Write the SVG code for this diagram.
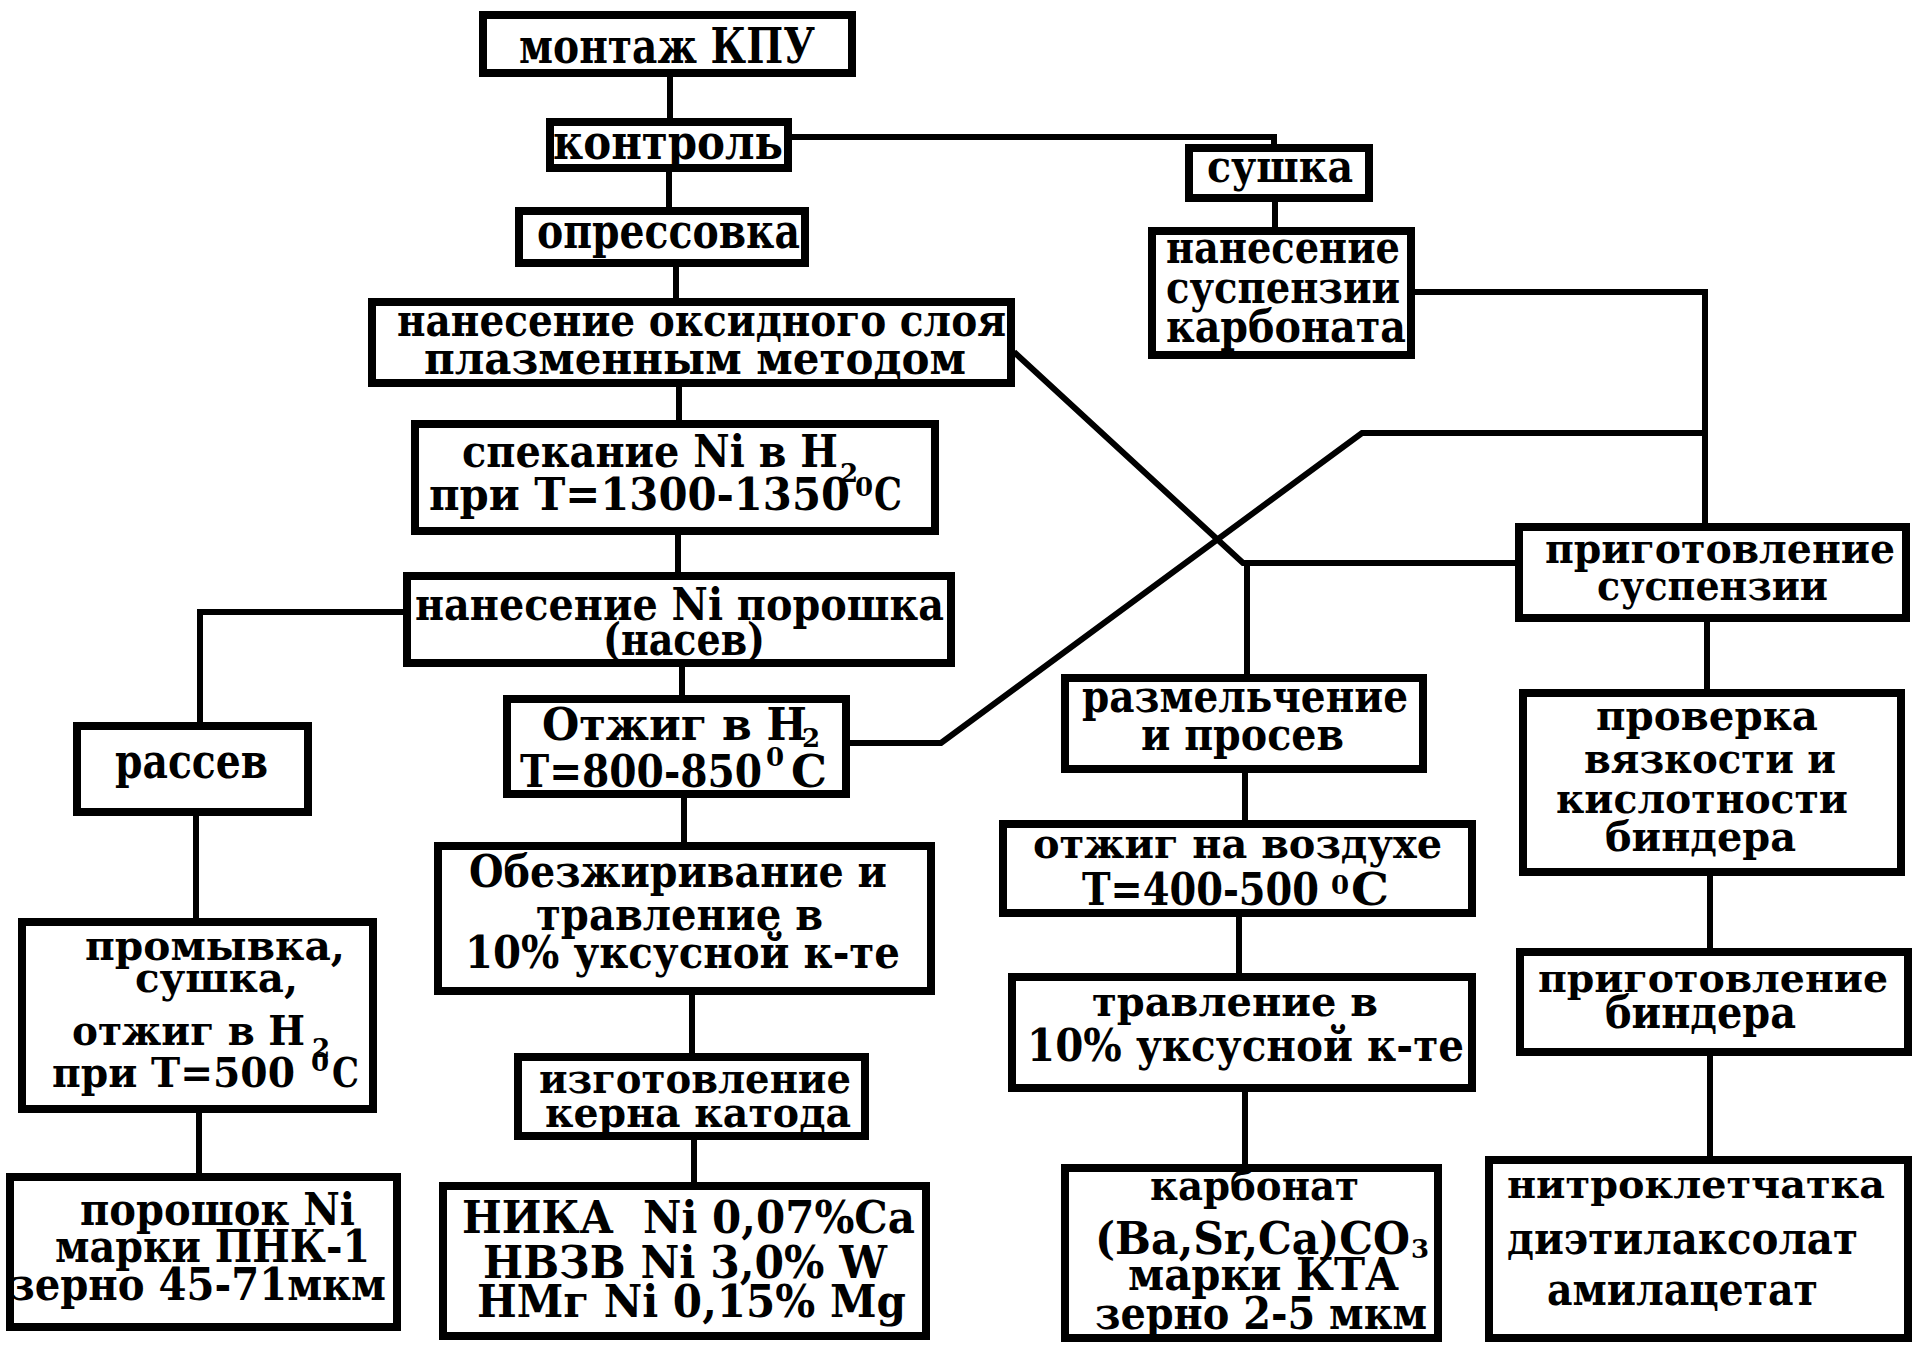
<svg xmlns="http://www.w3.org/2000/svg" width="1915" height="1345" viewBox="0 0 1915 1345">
<style>
.box{fill:#fff;stroke:#000;stroke-width:8}
.t{font-family:"DejaVu Serif","Liberation Serif",serif;font-weight:bold;font-size:44px;fill:#000}
.L{font-size:48px}
.M{font-size:41px}
.S{font-size:40px}
.s{font-size:26px}
.c line,.c polyline{stroke:#000;stroke-width:6;fill:none;stroke-linejoin:miter}
</style>
<rect width="1915" height="1345" fill="#fff"/>
<g class="c" id="connectors">
<line x1="670" y1="77" x2="670" y2="118"/>
<line x1="669" y1="172" x2="669" y2="207"/>
<line x1="676" y1="267" x2="676" y2="298"/>
<line x1="679" y1="387" x2="679" y2="420"/>
<line x1="678" y1="535" x2="678" y2="572"/>
<line x1="682" y1="667" x2="682" y2="695"/>
<line x1="684" y1="798" x2="684" y2="842"/>
<line x1="692" y1="995" x2="692" y2="1053"/>
<line x1="694" y1="1140" x2="694" y2="1182"/>
<polyline points="403,612 200,612 200,723"/>
<line x1="196" y1="816" x2="196" y2="918"/>
<line x1="199" y1="1113" x2="199" y2="1173"/>
<polyline points="792,137 1274,137 1274,144"/>
<line x1="1275" y1="202" x2="1275" y2="227"/>
<polyline points="1415,292 1705,292 1705,523"/>
<polyline points="1705,433 1362,433 941,743 850,743"/>
<polyline points="1014,352 1243,563 1515,563"/>
<line x1="1247" y1="563" x2="1247" y2="674"/>
<line x1="1245" y1="773" x2="1245" y2="820"/>
<line x1="1239" y1="917" x2="1239" y2="973"/>
<line x1="1245" y1="1092" x2="1245" y2="1164"/>
<line x1="1707" y1="622" x2="1707" y2="689"/>
<line x1="1710" y1="876" x2="1710" y2="948"/>
<line x1="1710" y1="1056" x2="1710" y2="1156"/>
</g>
<g id="n-montazh"><rect class="box" x="483" y="15" width="369" height="58"/>
<text class="t L" x="519" y="63" textLength="296" lengthAdjust="spacingAndGlyphs">монтаж КПУ</text></g>
<g id="n-kontrol"><rect class="box" x="550" y="122" width="238" height="46"/>
<text class="t L" x="553" y="159" textLength="230" lengthAdjust="spacingAndGlyphs">контроль</text></g>
<g id="n-opressovka"><rect class="box" x="519" y="211" width="286" height="52"/>
<text class="t L" x="537" y="248" textLength="263" lengthAdjust="spacingAndGlyphs">опрессовка</text></g>
<g id="n-oksid"><rect class="box" x="372" y="302" width="639" height="81"/>
<text class="t" x="397" y="336" textLength="609" lengthAdjust="spacingAndGlyphs">нанесение оксидного слоя</text>
<text class="t" x="424" y="374" textLength="542" lengthAdjust="spacingAndGlyphs">плазменным методом</text></g>
<g id="n-spekanie"><rect class="box" x="415" y="424" width="520" height="107"/>
<text class="t" x="462" y="467" textLength="376" lengthAdjust="spacingAndGlyphs">спекание Ni в H</text>
<text class="t s" x="840" y="482">2</text>
<text class="t" x="429" y="510" textLength="421" lengthAdjust="spacingAndGlyphs">при T=1300-1350</text>
<text class="t s" x="855" y="496">0</text>
<text class="t" x="874" y="510" textLength="28" lengthAdjust="spacingAndGlyphs">C</text></g>
<g id="n-nanesNi"><rect class="box" x="407" y="576" width="544" height="87"/>
<text class="t" x="415" y="620" textLength="529" lengthAdjust="spacingAndGlyphs">нанесение Ni порошка</text>
<text class="t" x="603" y="655" textLength="162" lengthAdjust="spacingAndGlyphs">(насев)</text></g>
<g id="n-rassev"><rect class="box" x="77" y="726" width="231" height="86"/>
<text class="t L" x="115" y="778" textLength="153" lengthAdjust="spacingAndGlyphs">рассев</text></g>
<g id="n-promyvka"><rect class="box" x="22" y="922" width="351" height="187"/>
<text class="t M" x="85" y="960" textLength="260" lengthAdjust="spacingAndGlyphs">промывка,</text>
<text class="t M" x="135" y="992" textLength="163" lengthAdjust="spacingAndGlyphs">сушка,</text>
<text class="t M" x="72" y="1045" textLength="233" lengthAdjust="spacingAndGlyphs">отжиг в H</text>
<text class="t s" x="312" y="1057">2</text>
<text class="t M" x="52" y="1087" textLength="243" lengthAdjust="spacingAndGlyphs">при T=500</text>
<text class="t s" x="311" y="1071">0</text>
<text class="t M" x="332" y="1087" textLength="27" lengthAdjust="spacingAndGlyphs">C</text></g>
<g id="n-poroshok"><rect class="box" x="10" y="1177" width="387" height="150"/>
<text class="t" x="80" y="1225" textLength="275" lengthAdjust="spacingAndGlyphs">порошок Ni</text>
<text class="t" x="55" y="1262" textLength="315" lengthAdjust="spacingAndGlyphs">марки ПНК-1</text>
<text class="t" x="9" y="1300" textLength="377" lengthAdjust="spacingAndGlyphs">зерно 45-71мкм</text></g>
<g id="n-otzhigH2"><rect class="box" x="507" y="699" width="339" height="95"/>
<text class="t" x="542" y="740" textLength="265" lengthAdjust="spacingAndGlyphs">Отжиг в H</text>
<text class="t s" x="802" y="747">2</text>
<text class="t" x="520" y="787" textLength="242" lengthAdjust="spacingAndGlyphs">T=800-850</text>
<text class="t s" x="766" y="766">0</text>
<text class="t" x="791" y="787" textLength="36" lengthAdjust="spacingAndGlyphs">C</text></g>
<g id="n-obezzhir"><rect class="box" x="438" y="846" width="493" height="145"/>
<text class="t" x="469" y="887" textLength="418" lengthAdjust="spacingAndGlyphs">Обезжиривание и</text>
<text class="t" x="536" y="930" textLength="287" lengthAdjust="spacingAndGlyphs">травление в</text>
<text class="t" x="465" y="968" textLength="435" lengthAdjust="spacingAndGlyphs">10% уксусной к-те</text></g>
<g id="n-izgot"><rect class="box" x="518" y="1057" width="347" height="79"/>
<text class="t M" x="539" y="1093" textLength="312" lengthAdjust="spacingAndGlyphs">изготовление</text>
<text class="t M" x="545" y="1127" textLength="306" lengthAdjust="spacingAndGlyphs">керна катода</text></g>
<g id="n-nika"><rect class="box" x="443" y="1186" width="483" height="150"/>
<text class="t" x="462" y="1233" textLength="453" lengthAdjust="spacingAndGlyphs" xml:space="preserve">НИКА  Ni 0,07%Ca</text>
<text class="t" x="483" y="1278" textLength="404" lengthAdjust="spacingAndGlyphs">НВЗВ Ni 3,0% W</text>
<text class="t" x="477" y="1317" textLength="429" lengthAdjust="spacingAndGlyphs">НМг Ni 0,15% Mg</text></g>
<g id="n-sushka"><rect class="box" x="1189" y="148" width="180" height="50"/>
<text class="t" x="1207" y="182" textLength="146" lengthAdjust="spacingAndGlyphs">сушка</text></g>
<g id="n-nanesSusp"><rect class="box" x="1152" y="231" width="259" height="124"/>
<text class="t" x="1166" y="263" textLength="234" lengthAdjust="spacingAndGlyphs">нанесение</text>
<text class="t" x="1166" y="303" textLength="234" lengthAdjust="spacingAndGlyphs">суспензии</text>
<text class="t" x="1166" y="342" textLength="240" lengthAdjust="spacingAndGlyphs">карбоната</text></g>
<g id="n-prigSusp"><rect class="box" x="1519" y="527" width="387" height="91"/>
<text class="t M" x="1545" y="563" textLength="350" lengthAdjust="spacingAndGlyphs">приготовление</text>
<text class="t M" x="1597" y="600" textLength="231" lengthAdjust="spacingAndGlyphs">суспензии</text></g>
<g id="n-razmel"><rect class="box" x="1065" y="678" width="358" height="91"/>
<text class="t" x="1082" y="712" textLength="326" lengthAdjust="spacingAndGlyphs">размельчение</text>
<text class="t" x="1141" y="750" textLength="203" lengthAdjust="spacingAndGlyphs">и просев</text></g>
<g id="n-otzhigVozd"><rect class="box" x="1003" y="824" width="469" height="89"/>
<text class="t M" x="1033" y="858" textLength="409" lengthAdjust="spacingAndGlyphs">отжиг на воздухе</text>
<text class="t" x="1082" y="905" textLength="237" lengthAdjust="spacingAndGlyphs">T=400-500</text>
<text class="t s" x="1331" y="894">0</text>
<text class="t" x="1351" y="905" textLength="38" lengthAdjust="spacingAndGlyphs">C</text></g>
<g id="n-travlenie"><rect class="box" x="1012" y="977" width="460" height="111"/>
<text class="t M" x="1092" y="1016" textLength="286" lengthAdjust="spacingAndGlyphs">травление в</text>
<text class="t" x="1027" y="1061" textLength="437" lengthAdjust="spacingAndGlyphs">10% уксусной к-те</text></g>
<g id="n-karbonat"><rect class="box" x="1065" y="1168" width="373" height="170"/>
<text class="t M" x="1150" y="1200" textLength="209" lengthAdjust="spacingAndGlyphs">карбонат</text>
<text class="t" x="1095" y="1254" textLength="315" lengthAdjust="spacingAndGlyphs">(Ba,Sr,Ca)CO</text>
<text class="t s" x="1411" y="1258">3</text>
<text class="t" x="1128" y="1290" textLength="271" lengthAdjust="spacingAndGlyphs">марки КТА</text>
<text class="t" x="1095" y="1329" textLength="332" lengthAdjust="spacingAndGlyphs">зерно 2-5 мкм</text></g>
<g id="n-proverka"><rect class="box" x="1523" y="693" width="378" height="179"/>
<text class="t M" x="1596" y="730" textLength="222" lengthAdjust="spacingAndGlyphs">проверка</text>
<text class="t M" x="1584" y="773" textLength="252" lengthAdjust="spacingAndGlyphs">вязкости и</text>
<text class="t M" x="1556" y="813" textLength="292" lengthAdjust="spacingAndGlyphs">кислотности</text>
<text class="t M" x="1605" y="851" textLength="191" lengthAdjust="spacingAndGlyphs">биндера</text></g>
<g id="n-prigBind"><rect class="box" x="1520" y="952" width="388" height="100"/>
<text class="t S" x="1538" y="992" textLength="350" lengthAdjust="spacingAndGlyphs">приготовление</text>
<text class="t" x="1605" y="1028" textLength="191" lengthAdjust="spacingAndGlyphs">биндера</text></g>
<g id="n-nitro"><rect class="box" x="1489" y="1160" width="419" height="178"/>
<text class="t S" x="1507" y="1198" textLength="378" lengthAdjust="spacingAndGlyphs">нитроклетчатка</text>
<text class="t" x="1507" y="1254" textLength="351" lengthAdjust="spacingAndGlyphs">диэтилаксолат</text>
<text class="t" x="1547" y="1305" textLength="271" lengthAdjust="spacingAndGlyphs">амилацетат</text></g>
</svg>
